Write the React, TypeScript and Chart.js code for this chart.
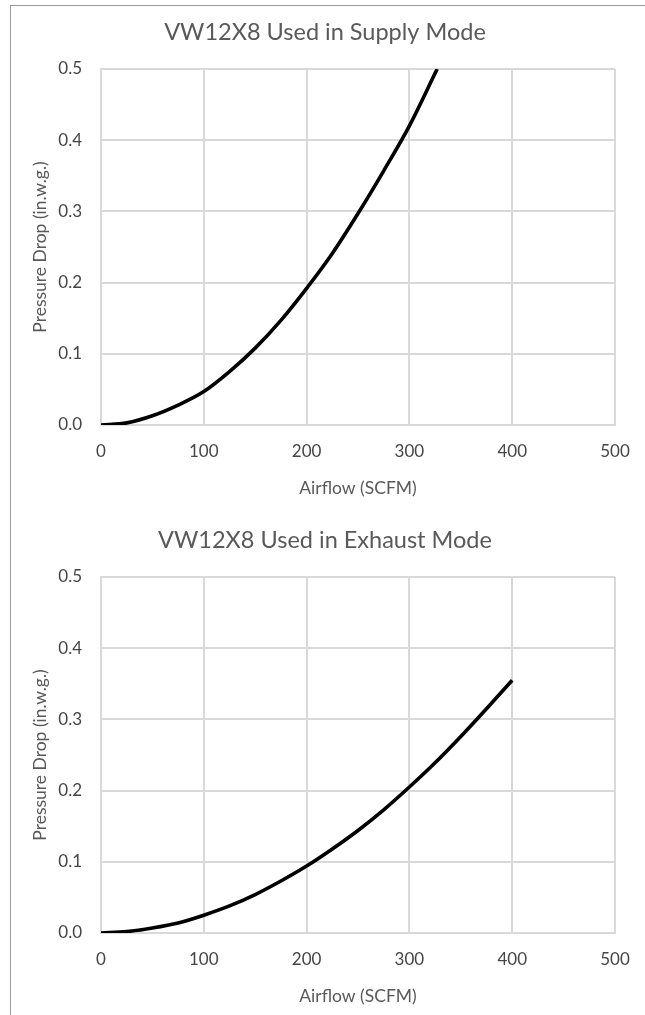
import React, { useEffect, useRef } from "react";
import { Chart, registerables } from "chart.js";

Chart.register(...registerables);

// ---- data ----
const xTickValues = [0, 100, 200, 300, 400, 500];
const yTickValues = [0, 0.1, 0.2, 0.3, 0.4, 0.5];

const supplyAirflow = [0, 25, 50, 75, 100, 125, 150, 175, 200, 225, 250, 275, 300, 327];
const supplyDrop = [0, 0.003, 0.013, 0.028, 0.047, 0.075, 0.108, 0.147, 0.192, 0.241, 0.297, 0.357, 0.42, 0.5];

const exhaustAirflow = [0, 25, 50, 75, 100, 125, 150, 175, 200, 225, 250, 275, 300, 325, 350, 375, 400];
const exhaustDrop = [0, 0.002, 0.007, 0.014, 0.025, 0.038, 0.054, 0.073, 0.094, 0.118, 0.144, 0.173, 0.205, 0.239, 0.276, 0.315, 0.355];

const chartTitles = ["VW12X8 Used in Supply Mode", "VW12X8 Used in Exhaust Mode"];
const xAxisTitle = "Airflow (SCFM)";
const yAxisTitle = "Pressure Drop (in.w.g.)";

const FONT = "Lato, 'Open Sans', sans-serif";
const TEXT = "#595959";
const TICK_TEXT = "#454545";
const GRID = "#d9d9d9";

const CANVAS_W = 630;
const CANVAS_H = 500;

function CurveChart(props: { title: string; xs: number[]; ys: number[]; top: number }) {
  const ref = useRef<HTMLCanvasElement | null>(null);
  useEffect(() => {
    if (!ref.current) return;
    const points = props.xs.map((x, i) => ({ x, y: props.ys[i] }));
    const chart = new Chart(ref.current, {
      type: "line",
      data: {
        datasets: [
          {
            data: points,
            borderColor: "#000000",
            borderWidth: 3.6,
            pointRadius: 0,
            fill: false,
            cubicInterpolationMode: "monotone",
          },
        ],
      },
      options: {
        animation: false,
        responsive: false,
        maintainAspectRatio: false,
        devicePixelRatio: 1,
        layout: { padding: { left: 0, right: 0, top: 0, bottom: 0 } },
        plugins: {
          legend: { display: false },
          tooltip: { enabled: false },
          title: {
            display: true,
            text: props.title,
            color: TEXT,
            font: { family: FONT, size: 23.5, weight: "normal" },
            padding: { top: 8, bottom: 22.8 },
          },
        },
        scales: {
          x: {
            type: "linear",
            min: 0,
            max: 500,
            afterBuildTicks: (s: any) => {
              s.ticks = xTickValues.map((v) => ({ value: v }));
            },
            ticks: {
              color: TICK_TEXT,
              font: { family: FONT, size: 17 },
              padding: 16,
              maxRotation: 0,
            },
            grid: { color: GRID, lineWidth: 2, drawTicks: false },
            border: { color: GRID, width: 2 },
            title: {
              display: true,
              text: xAxisTitle,
              color: TEXT,
              font: { family: FONT, size: 17.5 },
              padding: { top: 0, bottom: 11.5 },
            },
            afterFit: (s: any) => {
              s.height = 85;
              s.paddingRight = 25;
              s.paddingLeft = 0;
            },
          },
          y: {
            type: "linear",
            min: 0,
            max: 0.5,
            afterBuildTicks: (s: any) => {
              s.ticks = yTickValues.map((v) => ({ value: v }));
            },
            ticks: {
              color: TICK_TEXT,
              font: { family: FONT, size: 17 },
              padding: 19,
              callback: (v: any) => Number(v).toFixed(1),
            },
            grid: { color: GRID, lineWidth: 2, drawTicks: false },
            border: { color: GRID, width: 2 },
            title: {
              display: true,
              text: yAxisTitle,
              color: TEXT,
              font: { family: FONT, size: 17.5 },
              padding: { top: 19.5, bottom: 0 },
            },
            afterFit: (s: any) => {
              s.width = 91;
            },
          },
        },
      },
    } as any);
    return () => chart.destroy();
  }, [props.title, props.xs, props.ys]);

  return (
    <canvas
      ref={ref}
      width={CANVAS_W}
      height={CANVAS_H}
      style={{ position: "absolute", left: 10, top: props.top, width: CANVAS_W, height: CANVAS_H }}
    />
  );
}

export default function App() {
  return (
    <div
      style={{
        position: "absolute",
        left: 0,
        top: 0,
        width: 645,
        height: 1015,
        overflow: "hidden",
        background: "#ffffff",
      }}
    >
      <div
        style={{
          position: "absolute",
          left: 10,
          top: 5,
          right: 0,
          bottom: 0,
          borderLeft: "1px solid #9a9a9a",
          borderTop: "1px solid #9a9a9a",
        }}
      />
      <CurveChart title={chartTitles[0]} xs={supplyAirflow} ys={supplyDrop} top={10} />
      <CurveChart title={chartTitles[1]} xs={exhaustAirflow} ys={exhaustDrop} top={518} />
    </div>
  );
}
